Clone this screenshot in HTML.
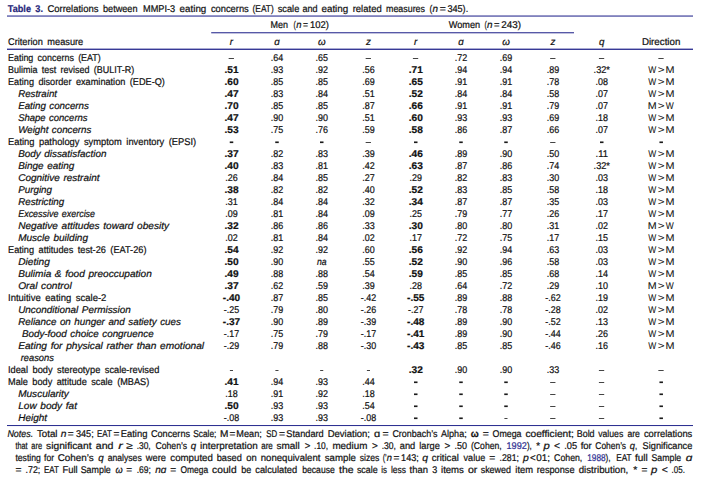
<!DOCTYPE html>
<html><head><meta charset="utf-8"><title>Table 3</title>
<style>
html,body{margin:0;padding:0;background:#fff;}
body{width:703px;height:480px;overflow:hidden;font-family:"Liberation Sans",sans-serif;}
svg{display:block;}
text{font-family:"Liberation Sans",sans-serif;font-size:9.8px;fill:#111111;white-space:pre;word-spacing:2px;text-rendering:geometricPrecision;stroke:#111111;stroke-width:0.22px;}
.b{font-weight:bold;}
.i{font-style:italic;word-spacing:0.8px;}
.n{stroke-width:0.06px;}
</style></head><body>
<svg width="703" height="480" viewBox="0 0 703 480">
<rect x="0" y="0" width="703" height="480" fill="#ffffff"/>
<rect x="7" y="15.5" width="686" height="1.1" fill="#2e3192"/>
<rect x="211.2" y="32.2" width="362.8" height="1.1" fill="#2e3192"/>
<rect x="7" y="48.6" width="686" height="1.35" fill="#2e3192"/>
<rect x="7" y="425.0" width="686" height="1.05" fill="#2e3192"/>
<text x="7.80" y="12.20" textLength="35.20" lengthAdjust="spacingAndGlyphs" class="b" style="fill:#27277a;stroke:#27277a">Table 3.</text>
<text x="47.40" y="12.20" textLength="51.10" lengthAdjust="spacingAndGlyphs">Correlations</text>
<text x="103.00" y="12.20" textLength="34.50" lengthAdjust="spacingAndGlyphs">between</text>
<text x="143.00" y="12.20" textLength="32.20" lengthAdjust="spacingAndGlyphs">MMPI-3</text>
<text x="179.60" y="12.20" textLength="26.70" lengthAdjust="spacingAndGlyphs">eating</text>
<text x="210.90" y="12.20" textLength="37.90" lengthAdjust="spacingAndGlyphs">concerns</text>
<text x="252.60" y="12.20" textLength="21.10" lengthAdjust="spacingAndGlyphs">(EAT)</text>
<text x="277.70" y="12.20" textLength="21.60" lengthAdjust="spacingAndGlyphs">scale</text>
<text x="302.50" y="12.20" textLength="15.20" lengthAdjust="spacingAndGlyphs">and</text>
<text x="321.50" y="12.20" textLength="26.70" lengthAdjust="spacingAndGlyphs">eating</text>
<text x="352.70" y="12.20" textLength="29.00" lengthAdjust="spacingAndGlyphs">related</text>
<text x="386.00" y="12.20" textLength="39.00" lengthAdjust="spacingAndGlyphs">measures</text>
<text x="429.60" y="12.20" textLength="2.80" lengthAdjust="spacingAndGlyphs">(</text>
<text x="432.40" y="12.20" textLength="5.50" lengthAdjust="spacingAndGlyphs" class="i">n</text>
<text x="439.80" y="12.20" textLength="6.10" lengthAdjust="spacingAndGlyphs">=</text>
<text x="447.40" y="12.20" textLength="20.80" lengthAdjust="spacingAndGlyphs">345).</text>
<text x="270.50" y="27.70" textLength="17.50" lengthAdjust="spacingAndGlyphs">Men</text>
<text x="293.50" y="27.70" textLength="2.30" lengthAdjust="spacingAndGlyphs">(</text>
<text x="296.25" y="27.70" textLength="5.25" lengthAdjust="spacingAndGlyphs" class="i">n</text>
<text x="303.00" y="27.70" textLength="5.00" lengthAdjust="spacingAndGlyphs">=</text>
<text x="310.00" y="27.70" textLength="19.00" lengthAdjust="spacingAndGlyphs">102)</text>
<text x="448.80" y="27.70" textLength="31.40" lengthAdjust="spacingAndGlyphs">Women</text>
<text x="484.50" y="27.70" textLength="2.30" lengthAdjust="spacingAndGlyphs">(</text>
<text x="487.00" y="27.70" textLength="5.50" lengthAdjust="spacingAndGlyphs" class="i">n</text>
<text x="494.00" y="27.70" textLength="5.50" lengthAdjust="spacingAndGlyphs">=</text>
<text x="501.25" y="27.70" textLength="19.75" lengthAdjust="spacingAndGlyphs">243)</text>
<text x="8.00" y="45.00" textLength="75.25" lengthAdjust="spacingAndGlyphs">Criterion measure</text>
<text x="231.50" y="45.00" text-anchor="middle" class="i">r</text>
<text x="277.00" y="45.00" text-anchor="middle" class="i">ɑ</text>
<text x="321.75" y="45.00" text-anchor="middle" class="i">ω</text>
<text x="368.50" y="45.00" text-anchor="middle" class="i">z</text>
<text x="415.75" y="45.00" text-anchor="middle" class="i">r</text>
<text x="461.00" y="45.00" text-anchor="middle" class="i">ɑ</text>
<text x="506.00" y="45.00" text-anchor="middle" class="i">ω</text>
<text x="553.00" y="45.00" text-anchor="middle" class="i">z</text>
<text x="601.75" y="45.00" text-anchor="middle" class="i">q</text>
<text x="641.90" y="45.00" textLength="38.50" lengthAdjust="spacingAndGlyphs">Direction</text>
<text x="8.00" y="60.60" textLength="92.80" lengthAdjust="spacingAndGlyphs">Eating concerns (EAT)</text>
<rect x="228.65" y="58.00" width="5.3" height="1" fill="#444"/>
<text x="270.77" y="60.60" textLength="12.45" lengthAdjust="spacingAndGlyphs">.64</text>
<text x="315.52" y="60.60" textLength="12.45" lengthAdjust="spacingAndGlyphs">.65</text>
<rect x="365.65" y="58.00" width="5.3" height="1" fill="#444"/>
<rect x="412.90" y="58.00" width="5.3" height="1" fill="#444"/>
<text x="454.77" y="60.60" textLength="12.45" lengthAdjust="spacingAndGlyphs">.72</text>
<text x="499.77" y="60.60" textLength="12.45" lengthAdjust="spacingAndGlyphs">.69</text>
<rect x="550.15" y="58.00" width="5.3" height="1" fill="#444"/>
<rect x="598.90" y="58.00" width="5.3" height="1" fill="#444"/>
<rect x="658.35" y="58.00" width="5.3" height="1" fill="#444"/>
<text x="8.00" y="72.60" textLength="126.30" lengthAdjust="spacingAndGlyphs">Bulimia test revised (BULIT-R)</text>
<text x="224.45" y="72.60" textLength="14.10" lengthAdjust="spacingAndGlyphs" class="b">.51</text>
<text x="270.77" y="72.60" textLength="12.45" lengthAdjust="spacingAndGlyphs">.93</text>
<text x="315.52" y="72.60" textLength="12.45" lengthAdjust="spacingAndGlyphs">.92</text>
<text x="362.27" y="72.60" textLength="12.45" lengthAdjust="spacingAndGlyphs">.56</text>
<text x="408.70" y="72.60" textLength="14.10" lengthAdjust="spacingAndGlyphs" class="b">.71</text>
<text x="454.77" y="72.60" textLength="12.45" lengthAdjust="spacingAndGlyphs">.94</text>
<text x="499.77" y="72.60" textLength="12.45" lengthAdjust="spacingAndGlyphs">.94</text>
<text x="546.77" y="72.60" textLength="12.45" lengthAdjust="spacingAndGlyphs">.89</text>
<text x="593.58" y="72.60" textLength="16.35" lengthAdjust="spacingAndGlyphs">.32*</text>
<text x="648.20" y="72.60" textLength="8.00" lengthAdjust="spacingAndGlyphs" class="n">W</text>
<text x="657.70" y="72.60" textLength="6.80" lengthAdjust="spacingAndGlyphs" class="n">&gt;</text>
<text x="665.50" y="72.60" textLength="9.00" lengthAdjust="spacingAndGlyphs" class="n">M</text>
<text x="8.00" y="84.60" textLength="156.90" lengthAdjust="spacingAndGlyphs">Eating disorder examination (EDE-Q)</text>
<text x="224.45" y="84.60" textLength="14.10" lengthAdjust="spacingAndGlyphs" class="b">.60</text>
<text x="270.77" y="84.60" textLength="12.45" lengthAdjust="spacingAndGlyphs">.85</text>
<text x="315.52" y="84.60" textLength="12.45" lengthAdjust="spacingAndGlyphs">.85</text>
<text x="362.27" y="84.60" textLength="12.45" lengthAdjust="spacingAndGlyphs">.69</text>
<text x="408.70" y="84.60" textLength="14.10" lengthAdjust="spacingAndGlyphs" class="b">.65</text>
<text x="454.77" y="84.60" textLength="12.45" lengthAdjust="spacingAndGlyphs">.91</text>
<text x="499.77" y="84.60" textLength="12.45" lengthAdjust="spacingAndGlyphs">.91</text>
<text x="546.77" y="84.60" textLength="12.45" lengthAdjust="spacingAndGlyphs">.78</text>
<text x="595.52" y="84.60" textLength="12.45" lengthAdjust="spacingAndGlyphs">.08</text>
<text x="648.20" y="84.60" textLength="8.00" lengthAdjust="spacingAndGlyphs" class="n">W</text>
<text x="657.70" y="84.60" textLength="6.80" lengthAdjust="spacingAndGlyphs" class="n">&gt;</text>
<text x="665.50" y="84.60" textLength="9.00" lengthAdjust="spacingAndGlyphs" class="n">M</text>
<text x="18.20" y="96.60" textLength="38.80" lengthAdjust="spacingAndGlyphs" class="i">Restraint</text>
<text x="224.45" y="96.60" textLength="14.10" lengthAdjust="spacingAndGlyphs" class="b">.47</text>
<text x="270.77" y="96.60" textLength="12.45" lengthAdjust="spacingAndGlyphs">.83</text>
<text x="315.52" y="96.60" textLength="12.45" lengthAdjust="spacingAndGlyphs">.84</text>
<text x="362.27" y="96.60" textLength="12.45" lengthAdjust="spacingAndGlyphs">.51</text>
<text x="408.70" y="96.60" textLength="14.10" lengthAdjust="spacingAndGlyphs" class="b">.52</text>
<text x="454.77" y="96.60" textLength="12.45" lengthAdjust="spacingAndGlyphs">.84</text>
<text x="499.77" y="96.60" textLength="12.45" lengthAdjust="spacingAndGlyphs">.84</text>
<text x="546.77" y="96.60" textLength="12.45" lengthAdjust="spacingAndGlyphs">.58</text>
<text x="595.52" y="96.60" textLength="12.45" lengthAdjust="spacingAndGlyphs">.07</text>
<text x="648.20" y="96.60" textLength="8.00" lengthAdjust="spacingAndGlyphs" class="n">W</text>
<text x="657.70" y="96.60" textLength="6.80" lengthAdjust="spacingAndGlyphs" class="n">&gt;</text>
<text x="665.50" y="96.60" textLength="9.00" lengthAdjust="spacingAndGlyphs" class="n">M</text>
<text x="18.20" y="108.60" textLength="70.70" lengthAdjust="spacingAndGlyphs" class="i">Eating concerns</text>
<text x="224.45" y="108.60" textLength="14.10" lengthAdjust="spacingAndGlyphs" class="b">.70</text>
<text x="270.77" y="108.60" textLength="12.45" lengthAdjust="spacingAndGlyphs">.85</text>
<text x="315.52" y="108.60" textLength="12.45" lengthAdjust="spacingAndGlyphs">.85</text>
<text x="362.27" y="108.60" textLength="12.45" lengthAdjust="spacingAndGlyphs">.87</text>
<text x="408.70" y="108.60" textLength="14.10" lengthAdjust="spacingAndGlyphs" class="b">.66</text>
<text x="454.77" y="108.60" textLength="12.45" lengthAdjust="spacingAndGlyphs">.91</text>
<text x="499.77" y="108.60" textLength="12.45" lengthAdjust="spacingAndGlyphs">.91</text>
<text x="546.77" y="108.60" textLength="12.45" lengthAdjust="spacingAndGlyphs">.79</text>
<text x="595.52" y="108.60" textLength="12.45" lengthAdjust="spacingAndGlyphs">.07</text>
<text x="647.80" y="108.60" textLength="8.90" lengthAdjust="spacingAndGlyphs" class="n">M</text>
<text x="657.70" y="108.60" textLength="6.80" lengthAdjust="spacingAndGlyphs" class="n">&gt;</text>
<text x="665.70" y="108.60" textLength="8.00" lengthAdjust="spacingAndGlyphs" class="n">W</text>
<text x="18.20" y="120.60" textLength="69.40" lengthAdjust="spacingAndGlyphs" class="i">Shape concerns</text>
<text x="224.45" y="120.60" textLength="14.10" lengthAdjust="spacingAndGlyphs" class="b">.47</text>
<text x="270.77" y="120.60" textLength="12.45" lengthAdjust="spacingAndGlyphs">.90</text>
<text x="315.52" y="120.60" textLength="12.45" lengthAdjust="spacingAndGlyphs">.90</text>
<text x="362.27" y="120.60" textLength="12.45" lengthAdjust="spacingAndGlyphs">.51</text>
<text x="408.70" y="120.60" textLength="14.10" lengthAdjust="spacingAndGlyphs" class="b">.60</text>
<text x="454.77" y="120.60" textLength="12.45" lengthAdjust="spacingAndGlyphs">.93</text>
<text x="499.77" y="120.60" textLength="12.45" lengthAdjust="spacingAndGlyphs">.93</text>
<text x="546.77" y="120.60" textLength="12.45" lengthAdjust="spacingAndGlyphs">.69</text>
<text x="595.52" y="120.60" textLength="12.45" lengthAdjust="spacingAndGlyphs">.18</text>
<text x="648.20" y="120.60" textLength="8.00" lengthAdjust="spacingAndGlyphs" class="n">W</text>
<text x="657.70" y="120.60" textLength="6.80" lengthAdjust="spacingAndGlyphs" class="n">&gt;</text>
<text x="665.50" y="120.60" textLength="9.00" lengthAdjust="spacingAndGlyphs" class="n">M</text>
<text x="18.20" y="132.60" textLength="73.20" lengthAdjust="spacingAndGlyphs" class="i">Weight concerns</text>
<text x="224.45" y="132.60" textLength="14.10" lengthAdjust="spacingAndGlyphs" class="b">.53</text>
<text x="270.77" y="132.60" textLength="12.45" lengthAdjust="spacingAndGlyphs">.75</text>
<text x="315.52" y="132.60" textLength="12.45" lengthAdjust="spacingAndGlyphs">.76</text>
<text x="362.27" y="132.60" textLength="12.45" lengthAdjust="spacingAndGlyphs">.59</text>
<text x="408.70" y="132.60" textLength="14.10" lengthAdjust="spacingAndGlyphs" class="b">.58</text>
<text x="454.77" y="132.60" textLength="12.45" lengthAdjust="spacingAndGlyphs">.86</text>
<text x="499.77" y="132.60" textLength="12.45" lengthAdjust="spacingAndGlyphs">.87</text>
<text x="546.77" y="132.60" textLength="12.45" lengthAdjust="spacingAndGlyphs">.66</text>
<text x="595.52" y="132.60" textLength="12.45" lengthAdjust="spacingAndGlyphs">.07</text>
<text x="648.20" y="132.60" textLength="8.00" lengthAdjust="spacingAndGlyphs" class="n">W</text>
<text x="657.70" y="132.60" textLength="6.80" lengthAdjust="spacingAndGlyphs" class="n">&gt;</text>
<text x="665.50" y="132.60" textLength="9.00" lengthAdjust="spacingAndGlyphs" class="n">M</text>
<text x="8.00" y="144.60" textLength="188.20" lengthAdjust="spacingAndGlyphs">Eating pathology symptom inventory (EPSI)</text>
<rect x="229.75" y="141.45" width="3.5" height="1.65" fill="#1a1a1a"/>
<rect x="275.25" y="141.45" width="3.5" height="1.65" fill="#1a1a1a"/>
<rect x="320.00" y="141.45" width="3.5" height="1.65" fill="#1a1a1a"/>
<rect x="365.65" y="142.00" width="5.3" height="1" fill="#444"/>
<rect x="414.00" y="141.45" width="3.5" height="1.65" fill="#1a1a1a"/>
<rect x="459.25" y="141.45" width="3.5" height="1.65" fill="#1a1a1a"/>
<rect x="504.25" y="141.45" width="3.5" height="1.65" fill="#1a1a1a"/>
<rect x="550.15" y="142.00" width="5.3" height="1" fill="#444"/>
<rect x="600.00" y="141.45" width="3.5" height="1.65" fill="#1a1a1a"/>
<rect x="659.45" y="141.45" width="3.5" height="1.65" fill="#1a1a1a"/>
<text x="18.20" y="156.60" textLength="88.20" lengthAdjust="spacingAndGlyphs" class="i">Body dissatisfaction</text>
<text x="224.45" y="156.60" textLength="14.10" lengthAdjust="spacingAndGlyphs" class="b">.37</text>
<text x="270.77" y="156.60" textLength="12.45" lengthAdjust="spacingAndGlyphs">.82</text>
<text x="315.52" y="156.60" textLength="12.45" lengthAdjust="spacingAndGlyphs">.83</text>
<text x="362.27" y="156.60" textLength="12.45" lengthAdjust="spacingAndGlyphs">.39</text>
<text x="408.70" y="156.60" textLength="14.10" lengthAdjust="spacingAndGlyphs" class="b">.46</text>
<text x="454.77" y="156.60" textLength="12.45" lengthAdjust="spacingAndGlyphs">.89</text>
<text x="499.77" y="156.60" textLength="12.45" lengthAdjust="spacingAndGlyphs">.90</text>
<text x="546.77" y="156.60" textLength="12.45" lengthAdjust="spacingAndGlyphs">.50</text>
<text x="595.52" y="156.60" textLength="12.45" lengthAdjust="spacingAndGlyphs">.11</text>
<text x="648.20" y="156.60" textLength="8.00" lengthAdjust="spacingAndGlyphs" class="n">W</text>
<text x="657.70" y="156.60" textLength="6.80" lengthAdjust="spacingAndGlyphs" class="n">&gt;</text>
<text x="665.50" y="156.60" textLength="9.00" lengthAdjust="spacingAndGlyphs" class="n">M</text>
<text x="18.20" y="168.60" textLength="56.00" lengthAdjust="spacingAndGlyphs" class="i">Binge eating</text>
<text x="224.45" y="168.60" textLength="14.10" lengthAdjust="spacingAndGlyphs" class="b">.40</text>
<text x="270.77" y="168.60" textLength="12.45" lengthAdjust="spacingAndGlyphs">.83</text>
<text x="315.52" y="168.60" textLength="12.45" lengthAdjust="spacingAndGlyphs">.81</text>
<text x="362.27" y="168.60" textLength="12.45" lengthAdjust="spacingAndGlyphs">.42</text>
<text x="408.70" y="168.60" textLength="14.10" lengthAdjust="spacingAndGlyphs" class="b">.63</text>
<text x="454.77" y="168.60" textLength="12.45" lengthAdjust="spacingAndGlyphs">.87</text>
<text x="499.77" y="168.60" textLength="12.45" lengthAdjust="spacingAndGlyphs">.86</text>
<text x="546.77" y="168.60" textLength="12.45" lengthAdjust="spacingAndGlyphs">.74</text>
<text x="593.58" y="168.60" textLength="16.35" lengthAdjust="spacingAndGlyphs">.32*</text>
<text x="648.20" y="168.60" textLength="8.00" lengthAdjust="spacingAndGlyphs" class="n">W</text>
<text x="657.70" y="168.60" textLength="6.80" lengthAdjust="spacingAndGlyphs" class="n">&gt;</text>
<text x="665.50" y="168.60" textLength="9.00" lengthAdjust="spacingAndGlyphs" class="n">M</text>
<text x="18.20" y="180.60" textLength="81.30" lengthAdjust="spacingAndGlyphs" class="i">Cognitive restraint</text>
<text x="225.28" y="180.60" textLength="12.45" lengthAdjust="spacingAndGlyphs">.26</text>
<text x="270.77" y="180.60" textLength="12.45" lengthAdjust="spacingAndGlyphs">.84</text>
<text x="315.52" y="180.60" textLength="12.45" lengthAdjust="spacingAndGlyphs">.85</text>
<text x="362.27" y="180.60" textLength="12.45" lengthAdjust="spacingAndGlyphs">.27</text>
<text x="409.52" y="180.60" textLength="12.45" lengthAdjust="spacingAndGlyphs">.29</text>
<text x="454.77" y="180.60" textLength="12.45" lengthAdjust="spacingAndGlyphs">.82</text>
<text x="499.77" y="180.60" textLength="12.45" lengthAdjust="spacingAndGlyphs">.83</text>
<text x="546.77" y="180.60" textLength="12.45" lengthAdjust="spacingAndGlyphs">.30</text>
<text x="595.52" y="180.60" textLength="12.45" lengthAdjust="spacingAndGlyphs">.03</text>
<text x="648.20" y="180.60" textLength="8.00" lengthAdjust="spacingAndGlyphs" class="n">W</text>
<text x="657.70" y="180.60" textLength="6.80" lengthAdjust="spacingAndGlyphs" class="n">&gt;</text>
<text x="665.50" y="180.60" textLength="9.00" lengthAdjust="spacingAndGlyphs" class="n">M</text>
<text x="18.20" y="192.60" textLength="33.80" lengthAdjust="spacingAndGlyphs" class="i">Purging</text>
<text x="224.45" y="192.60" textLength="14.10" lengthAdjust="spacingAndGlyphs" class="b">.38</text>
<text x="270.77" y="192.60" textLength="12.45" lengthAdjust="spacingAndGlyphs">.82</text>
<text x="315.52" y="192.60" textLength="12.45" lengthAdjust="spacingAndGlyphs">.82</text>
<text x="362.27" y="192.60" textLength="12.45" lengthAdjust="spacingAndGlyphs">.40</text>
<text x="408.70" y="192.60" textLength="14.10" lengthAdjust="spacingAndGlyphs" class="b">.52</text>
<text x="454.77" y="192.60" textLength="12.45" lengthAdjust="spacingAndGlyphs">.83</text>
<text x="499.77" y="192.60" textLength="12.45" lengthAdjust="spacingAndGlyphs">.85</text>
<text x="546.77" y="192.60" textLength="12.45" lengthAdjust="spacingAndGlyphs">.58</text>
<text x="595.52" y="192.60" textLength="12.45" lengthAdjust="spacingAndGlyphs">.18</text>
<text x="648.20" y="192.60" textLength="8.00" lengthAdjust="spacingAndGlyphs" class="n">W</text>
<text x="657.70" y="192.60" textLength="6.80" lengthAdjust="spacingAndGlyphs" class="n">&gt;</text>
<text x="665.50" y="192.60" textLength="9.00" lengthAdjust="spacingAndGlyphs" class="n">M</text>
<text x="18.20" y="204.60" textLength="46.00" lengthAdjust="spacingAndGlyphs" class="i">Restricting</text>
<text x="225.28" y="204.60" textLength="12.45" lengthAdjust="spacingAndGlyphs">.31</text>
<text x="270.77" y="204.60" textLength="12.45" lengthAdjust="spacingAndGlyphs">.84</text>
<text x="315.52" y="204.60" textLength="12.45" lengthAdjust="spacingAndGlyphs">.84</text>
<text x="362.27" y="204.60" textLength="12.45" lengthAdjust="spacingAndGlyphs">.32</text>
<text x="408.70" y="204.60" textLength="14.10" lengthAdjust="spacingAndGlyphs" class="b">.34</text>
<text x="454.77" y="204.60" textLength="12.45" lengthAdjust="spacingAndGlyphs">.87</text>
<text x="499.77" y="204.60" textLength="12.45" lengthAdjust="spacingAndGlyphs">.87</text>
<text x="546.77" y="204.60" textLength="12.45" lengthAdjust="spacingAndGlyphs">.35</text>
<text x="595.52" y="204.60" textLength="12.45" lengthAdjust="spacingAndGlyphs">.03</text>
<text x="648.20" y="204.60" textLength="8.00" lengthAdjust="spacingAndGlyphs" class="n">W</text>
<text x="657.70" y="204.60" textLength="6.80" lengthAdjust="spacingAndGlyphs" class="n">&gt;</text>
<text x="665.50" y="204.60" textLength="9.00" lengthAdjust="spacingAndGlyphs" class="n">M</text>
<text x="18.20" y="216.60" textLength="76.90" lengthAdjust="spacingAndGlyphs" class="i">Excessive exercise</text>
<text x="225.28" y="216.60" textLength="12.45" lengthAdjust="spacingAndGlyphs">.09</text>
<text x="270.77" y="216.60" textLength="12.45" lengthAdjust="spacingAndGlyphs">.81</text>
<text x="315.52" y="216.60" textLength="12.45" lengthAdjust="spacingAndGlyphs">.84</text>
<text x="362.27" y="216.60" textLength="12.45" lengthAdjust="spacingAndGlyphs">.09</text>
<text x="409.52" y="216.60" textLength="12.45" lengthAdjust="spacingAndGlyphs">.25</text>
<text x="454.77" y="216.60" textLength="12.45" lengthAdjust="spacingAndGlyphs">.79</text>
<text x="499.77" y="216.60" textLength="12.45" lengthAdjust="spacingAndGlyphs">.77</text>
<text x="546.77" y="216.60" textLength="12.45" lengthAdjust="spacingAndGlyphs">.26</text>
<text x="595.52" y="216.60" textLength="12.45" lengthAdjust="spacingAndGlyphs">.17</text>
<text x="648.20" y="216.60" textLength="8.00" lengthAdjust="spacingAndGlyphs" class="n">W</text>
<text x="657.70" y="216.60" textLength="6.80" lengthAdjust="spacingAndGlyphs" class="n">&gt;</text>
<text x="665.50" y="216.60" textLength="9.00" lengthAdjust="spacingAndGlyphs" class="n">M</text>
<text x="18.20" y="228.60" textLength="150.80" lengthAdjust="spacingAndGlyphs" class="i">Negative attitudes toward obesity</text>
<text x="224.45" y="228.60" textLength="14.10" lengthAdjust="spacingAndGlyphs" class="b">.32</text>
<text x="270.77" y="228.60" textLength="12.45" lengthAdjust="spacingAndGlyphs">.86</text>
<text x="315.52" y="228.60" textLength="12.45" lengthAdjust="spacingAndGlyphs">.86</text>
<text x="362.27" y="228.60" textLength="12.45" lengthAdjust="spacingAndGlyphs">.33</text>
<text x="408.70" y="228.60" textLength="14.10" lengthAdjust="spacingAndGlyphs" class="b">.30</text>
<text x="454.77" y="228.60" textLength="12.45" lengthAdjust="spacingAndGlyphs">.80</text>
<text x="499.77" y="228.60" textLength="12.45" lengthAdjust="spacingAndGlyphs">.80</text>
<text x="546.77" y="228.60" textLength="12.45" lengthAdjust="spacingAndGlyphs">.31</text>
<text x="595.52" y="228.60" textLength="12.45" lengthAdjust="spacingAndGlyphs">.02</text>
<text x="647.80" y="228.60" textLength="8.90" lengthAdjust="spacingAndGlyphs" class="n">M</text>
<text x="657.70" y="228.60" textLength="6.80" lengthAdjust="spacingAndGlyphs" class="n">&gt;</text>
<text x="665.70" y="228.60" textLength="8.00" lengthAdjust="spacingAndGlyphs" class="n">W</text>
<text x="18.20" y="240.60" textLength="69.80" lengthAdjust="spacingAndGlyphs" class="i">Muscle building</text>
<text x="225.28" y="240.60" textLength="12.45" lengthAdjust="spacingAndGlyphs">.02</text>
<text x="270.77" y="240.60" textLength="12.45" lengthAdjust="spacingAndGlyphs">.81</text>
<text x="315.52" y="240.60" textLength="12.45" lengthAdjust="spacingAndGlyphs">.84</text>
<text x="362.27" y="240.60" textLength="12.45" lengthAdjust="spacingAndGlyphs">.02</text>
<text x="409.52" y="240.60" textLength="12.45" lengthAdjust="spacingAndGlyphs">.17</text>
<text x="454.77" y="240.60" textLength="12.45" lengthAdjust="spacingAndGlyphs">.72</text>
<text x="499.77" y="240.60" textLength="12.45" lengthAdjust="spacingAndGlyphs">.75</text>
<text x="546.77" y="240.60" textLength="12.45" lengthAdjust="spacingAndGlyphs">.17</text>
<text x="595.52" y="240.60" textLength="12.45" lengthAdjust="spacingAndGlyphs">.15</text>
<text x="648.20" y="240.60" textLength="8.00" lengthAdjust="spacingAndGlyphs" class="n">W</text>
<text x="657.70" y="240.60" textLength="6.80" lengthAdjust="spacingAndGlyphs" class="n">&gt;</text>
<text x="665.50" y="240.60" textLength="9.00" lengthAdjust="spacingAndGlyphs" class="n">M</text>
<text x="8.00" y="252.60" textLength="138.50" lengthAdjust="spacingAndGlyphs">Eating attitudes test-26 (EAT-26)</text>
<text x="224.45" y="252.60" textLength="14.10" lengthAdjust="spacingAndGlyphs" class="b">.54</text>
<text x="270.77" y="252.60" textLength="12.45" lengthAdjust="spacingAndGlyphs">.92</text>
<text x="315.52" y="252.60" textLength="12.45" lengthAdjust="spacingAndGlyphs">.92</text>
<text x="362.27" y="252.60" textLength="12.45" lengthAdjust="spacingAndGlyphs">.60</text>
<text x="408.70" y="252.60" textLength="14.10" lengthAdjust="spacingAndGlyphs" class="b">.56</text>
<text x="454.77" y="252.60" textLength="12.45" lengthAdjust="spacingAndGlyphs">.92</text>
<text x="499.77" y="252.60" textLength="12.45" lengthAdjust="spacingAndGlyphs">.94</text>
<text x="546.77" y="252.60" textLength="12.45" lengthAdjust="spacingAndGlyphs">.63</text>
<text x="595.52" y="252.60" textLength="12.45" lengthAdjust="spacingAndGlyphs">.03</text>
<text x="648.20" y="252.60" textLength="8.00" lengthAdjust="spacingAndGlyphs" class="n">W</text>
<text x="657.70" y="252.60" textLength="6.80" lengthAdjust="spacingAndGlyphs" class="n">&gt;</text>
<text x="665.50" y="252.60" textLength="9.00" lengthAdjust="spacingAndGlyphs" class="n">M</text>
<text x="18.20" y="264.60" textLength="31.60" lengthAdjust="spacingAndGlyphs" class="i">Dieting</text>
<text x="224.45" y="264.60" textLength="14.10" lengthAdjust="spacingAndGlyphs" class="b">.50</text>
<text x="270.77" y="264.60" textLength="12.45" lengthAdjust="spacingAndGlyphs">.90</text>
<text x="316.95" y="264.60" textLength="9.60" lengthAdjust="spacingAndGlyphs" class="i">na</text>
<text x="362.27" y="264.60" textLength="12.45" lengthAdjust="spacingAndGlyphs">.55</text>
<text x="408.70" y="264.60" textLength="14.10" lengthAdjust="spacingAndGlyphs" class="b">.52</text>
<text x="454.77" y="264.60" textLength="12.45" lengthAdjust="spacingAndGlyphs">.90</text>
<text x="499.77" y="264.60" textLength="12.45" lengthAdjust="spacingAndGlyphs">.96</text>
<text x="546.77" y="264.60" textLength="12.45" lengthAdjust="spacingAndGlyphs">.58</text>
<text x="595.52" y="264.60" textLength="12.45" lengthAdjust="spacingAndGlyphs">.03</text>
<text x="648.20" y="264.60" textLength="8.00" lengthAdjust="spacingAndGlyphs" class="n">W</text>
<text x="657.70" y="264.60" textLength="6.80" lengthAdjust="spacingAndGlyphs" class="n">&gt;</text>
<text x="665.50" y="264.60" textLength="9.00" lengthAdjust="spacingAndGlyphs" class="n">M</text>
<text x="18.20" y="276.60" textLength="133.60" lengthAdjust="spacingAndGlyphs" class="i">Bulimia &amp; food preoccupation</text>
<text x="224.45" y="276.60" textLength="14.10" lengthAdjust="spacingAndGlyphs" class="b">.49</text>
<text x="270.77" y="276.60" textLength="12.45" lengthAdjust="spacingAndGlyphs">.88</text>
<text x="315.52" y="276.60" textLength="12.45" lengthAdjust="spacingAndGlyphs">.88</text>
<text x="362.27" y="276.60" textLength="12.45" lengthAdjust="spacingAndGlyphs">.54</text>
<text x="408.70" y="276.60" textLength="14.10" lengthAdjust="spacingAndGlyphs" class="b">.59</text>
<text x="454.77" y="276.60" textLength="12.45" lengthAdjust="spacingAndGlyphs">.85</text>
<text x="499.77" y="276.60" textLength="12.45" lengthAdjust="spacingAndGlyphs">.85</text>
<text x="546.77" y="276.60" textLength="12.45" lengthAdjust="spacingAndGlyphs">.68</text>
<text x="595.52" y="276.60" textLength="12.45" lengthAdjust="spacingAndGlyphs">.14</text>
<text x="648.20" y="276.60" textLength="8.00" lengthAdjust="spacingAndGlyphs" class="n">W</text>
<text x="657.70" y="276.60" textLength="6.80" lengthAdjust="spacingAndGlyphs" class="n">&gt;</text>
<text x="665.50" y="276.60" textLength="9.00" lengthAdjust="spacingAndGlyphs" class="n">M</text>
<text x="18.20" y="288.60" textLength="53.50" lengthAdjust="spacingAndGlyphs" class="i">Oral control</text>
<text x="224.45" y="288.60" textLength="14.10" lengthAdjust="spacingAndGlyphs" class="b">.37</text>
<text x="270.77" y="288.60" textLength="12.45" lengthAdjust="spacingAndGlyphs">.62</text>
<text x="315.52" y="288.60" textLength="12.45" lengthAdjust="spacingAndGlyphs">.59</text>
<text x="362.27" y="288.60" textLength="12.45" lengthAdjust="spacingAndGlyphs">.39</text>
<text x="409.52" y="288.60" textLength="12.45" lengthAdjust="spacingAndGlyphs">.28</text>
<text x="454.77" y="288.60" textLength="12.45" lengthAdjust="spacingAndGlyphs">.64</text>
<text x="499.77" y="288.60" textLength="12.45" lengthAdjust="spacingAndGlyphs">.72</text>
<text x="546.77" y="288.60" textLength="12.45" lengthAdjust="spacingAndGlyphs">.29</text>
<text x="595.52" y="288.60" textLength="12.45" lengthAdjust="spacingAndGlyphs">.10</text>
<text x="647.80" y="288.60" textLength="8.90" lengthAdjust="spacingAndGlyphs" class="n">M</text>
<text x="657.70" y="288.60" textLength="6.80" lengthAdjust="spacingAndGlyphs" class="n">&gt;</text>
<text x="665.70" y="288.60" textLength="8.00" lengthAdjust="spacingAndGlyphs" class="n">W</text>
<text x="8.00" y="300.60" textLength="98.40" lengthAdjust="spacingAndGlyphs">Intuitive eating scale-2</text>
<text x="222.85" y="300.60" textLength="17.30" lengthAdjust="spacingAndGlyphs" class="b">-.40</text>
<text x="270.77" y="300.60" textLength="12.45" lengthAdjust="spacingAndGlyphs">.87</text>
<text x="315.52" y="300.60" textLength="12.45" lengthAdjust="spacingAndGlyphs">.85</text>
<text x="360.82" y="300.60" textLength="15.35" lengthAdjust="spacingAndGlyphs">-.42</text>
<text x="407.10" y="300.60" textLength="17.30" lengthAdjust="spacingAndGlyphs" class="b">-.55</text>
<text x="454.77" y="300.60" textLength="12.45" lengthAdjust="spacingAndGlyphs">.89</text>
<text x="499.77" y="300.60" textLength="12.45" lengthAdjust="spacingAndGlyphs">.88</text>
<text x="545.33" y="300.60" textLength="15.35" lengthAdjust="spacingAndGlyphs">-.62</text>
<text x="595.52" y="300.60" textLength="12.45" lengthAdjust="spacingAndGlyphs">.19</text>
<text x="648.20" y="300.60" textLength="8.00" lengthAdjust="spacingAndGlyphs" class="n">W</text>
<text x="657.70" y="300.60" textLength="6.80" lengthAdjust="spacingAndGlyphs" class="n">&gt;</text>
<text x="665.50" y="300.60" textLength="9.00" lengthAdjust="spacingAndGlyphs" class="n">M</text>
<text x="18.20" y="312.60" textLength="112.60" lengthAdjust="spacingAndGlyphs" class="i">Unconditional Permission</text>
<text x="223.82" y="312.60" textLength="15.35" lengthAdjust="spacingAndGlyphs">-.25</text>
<text x="270.77" y="312.60" textLength="12.45" lengthAdjust="spacingAndGlyphs">.79</text>
<text x="315.52" y="312.60" textLength="12.45" lengthAdjust="spacingAndGlyphs">.80</text>
<text x="360.82" y="312.60" textLength="15.35" lengthAdjust="spacingAndGlyphs">-.26</text>
<text x="408.07" y="312.60" textLength="15.35" lengthAdjust="spacingAndGlyphs">-.27</text>
<text x="454.77" y="312.60" textLength="12.45" lengthAdjust="spacingAndGlyphs">.78</text>
<text x="499.77" y="312.60" textLength="12.45" lengthAdjust="spacingAndGlyphs">.78</text>
<text x="545.33" y="312.60" textLength="15.35" lengthAdjust="spacingAndGlyphs">-.28</text>
<text x="595.52" y="312.60" textLength="12.45" lengthAdjust="spacingAndGlyphs">.02</text>
<text x="648.20" y="312.60" textLength="8.00" lengthAdjust="spacingAndGlyphs" class="n">W</text>
<text x="657.70" y="312.60" textLength="6.80" lengthAdjust="spacingAndGlyphs" class="n">&gt;</text>
<text x="665.50" y="312.60" textLength="9.00" lengthAdjust="spacingAndGlyphs" class="n">M</text>
<text x="18.20" y="324.60" textLength="162.70" lengthAdjust="spacingAndGlyphs" class="i">Reliance on hunger and satiety cues</text>
<text x="222.85" y="324.60" textLength="17.30" lengthAdjust="spacingAndGlyphs" class="b">-.37</text>
<text x="270.77" y="324.60" textLength="12.45" lengthAdjust="spacingAndGlyphs">.90</text>
<text x="315.52" y="324.60" textLength="12.45" lengthAdjust="spacingAndGlyphs">.89</text>
<text x="360.82" y="324.60" textLength="15.35" lengthAdjust="spacingAndGlyphs">-.39</text>
<text x="407.10" y="324.60" textLength="17.30" lengthAdjust="spacingAndGlyphs" class="b">-.48</text>
<text x="454.77" y="324.60" textLength="12.45" lengthAdjust="spacingAndGlyphs">.89</text>
<text x="499.77" y="324.60" textLength="12.45" lengthAdjust="spacingAndGlyphs">.90</text>
<text x="545.33" y="324.60" textLength="15.35" lengthAdjust="spacingAndGlyphs">-.52</text>
<text x="595.52" y="324.60" textLength="12.45" lengthAdjust="spacingAndGlyphs">.13</text>
<text x="648.20" y="324.60" textLength="8.00" lengthAdjust="spacingAndGlyphs" class="n">W</text>
<text x="657.70" y="324.60" textLength="6.80" lengthAdjust="spacingAndGlyphs" class="n">&gt;</text>
<text x="665.50" y="324.60" textLength="9.00" lengthAdjust="spacingAndGlyphs" class="n">M</text>
<text x="21.90" y="336.60" textLength="131.80" lengthAdjust="spacingAndGlyphs" class="i">Body-food choice congruence</text>
<text x="223.82" y="336.60" textLength="15.35" lengthAdjust="spacingAndGlyphs">-.17</text>
<text x="270.77" y="336.60" textLength="12.45" lengthAdjust="spacingAndGlyphs">.75</text>
<text x="315.52" y="336.60" textLength="12.45" lengthAdjust="spacingAndGlyphs">.79</text>
<text x="360.82" y="336.60" textLength="15.35" lengthAdjust="spacingAndGlyphs">-.17</text>
<text x="407.10" y="336.60" textLength="17.30" lengthAdjust="spacingAndGlyphs" class="b">-.41</text>
<text x="454.77" y="336.60" textLength="12.45" lengthAdjust="spacingAndGlyphs">.89</text>
<text x="499.77" y="336.60" textLength="12.45" lengthAdjust="spacingAndGlyphs">.90</text>
<text x="545.33" y="336.60" textLength="15.35" lengthAdjust="spacingAndGlyphs">-.44</text>
<text x="595.52" y="336.60" textLength="12.45" lengthAdjust="spacingAndGlyphs">.26</text>
<text x="648.20" y="336.60" textLength="8.00" lengthAdjust="spacingAndGlyphs" class="n">W</text>
<text x="657.70" y="336.60" textLength="6.80" lengthAdjust="spacingAndGlyphs" class="n">&gt;</text>
<text x="665.50" y="336.60" textLength="9.00" lengthAdjust="spacingAndGlyphs" class="n">M</text>
<text x="18.20" y="348.60" textLength="185.90" lengthAdjust="spacingAndGlyphs" class="i">Eating for physical rather than emotional</text>
<text x="223.82" y="348.60" textLength="15.35" lengthAdjust="spacingAndGlyphs">-.29</text>
<text x="270.77" y="348.60" textLength="12.45" lengthAdjust="spacingAndGlyphs">.79</text>
<text x="315.52" y="348.60" textLength="12.45" lengthAdjust="spacingAndGlyphs">.88</text>
<text x="360.82" y="348.60" textLength="15.35" lengthAdjust="spacingAndGlyphs">-.30</text>
<text x="407.10" y="348.60" textLength="17.30" lengthAdjust="spacingAndGlyphs" class="b">-.43</text>
<text x="454.77" y="348.60" textLength="12.45" lengthAdjust="spacingAndGlyphs">.85</text>
<text x="499.77" y="348.60" textLength="12.45" lengthAdjust="spacingAndGlyphs">.85</text>
<text x="545.33" y="348.60" textLength="15.35" lengthAdjust="spacingAndGlyphs">-.46</text>
<text x="595.52" y="348.60" textLength="12.45" lengthAdjust="spacingAndGlyphs">.16</text>
<text x="648.20" y="348.60" textLength="8.00" lengthAdjust="spacingAndGlyphs" class="n">W</text>
<text x="657.70" y="348.60" textLength="6.80" lengthAdjust="spacingAndGlyphs" class="n">&gt;</text>
<text x="665.50" y="348.60" textLength="9.00" lengthAdjust="spacingAndGlyphs" class="n">M</text>
<text x="20.70" y="360.60" textLength="33.10" lengthAdjust="spacingAndGlyphs" class="i">reasons</text>
<text x="8.00" y="372.60" textLength="151.30" lengthAdjust="spacingAndGlyphs">Ideal body stereotype scale-revised</text>
<rect x="229.90" y="370.00" width="3.1" height="1" fill="#444"/>
<rect x="275.40" y="370.00" width="3.1" height="1" fill="#444"/>
<rect x="320.15" y="370.00" width="3.1" height="1" fill="#444"/>
<rect x="366.90" y="370.00" width="3.1" height="1" fill="#444"/>
<text x="408.70" y="372.60" textLength="14.10" lengthAdjust="spacingAndGlyphs" class="b">.32</text>
<text x="454.77" y="372.60" textLength="12.45" lengthAdjust="spacingAndGlyphs">.90</text>
<text x="499.77" y="372.60" textLength="12.45" lengthAdjust="spacingAndGlyphs">.90</text>
<text x="546.77" y="372.60" textLength="12.45" lengthAdjust="spacingAndGlyphs">.33</text>
<rect x="598.90" y="370.00" width="5.3" height="1" fill="#444"/>
<rect x="658.35" y="370.00" width="5.3" height="1" fill="#444"/>
<text x="8.00" y="384.60" textLength="141.30" lengthAdjust="spacingAndGlyphs">Male body attitude scale (MBAS)</text>
<text x="224.45" y="384.60" textLength="14.10" lengthAdjust="spacingAndGlyphs" class="b">.41</text>
<text x="270.77" y="384.60" textLength="12.45" lengthAdjust="spacingAndGlyphs">.94</text>
<text x="315.52" y="384.60" textLength="12.45" lengthAdjust="spacingAndGlyphs">.93</text>
<text x="362.27" y="384.60" textLength="12.45" lengthAdjust="spacingAndGlyphs">.44</text>
<rect x="414.00" y="381.45" width="3.5" height="1.65" fill="#1a1a1a"/>
<rect x="459.25" y="381.45" width="3.5" height="1.65" fill="#1a1a1a"/>
<rect x="504.25" y="381.45" width="3.5" height="1.65" fill="#1a1a1a"/>
<rect x="550.15" y="382.00" width="5.3" height="1" fill="#444"/>
<rect x="598.90" y="382.00" width="5.3" height="1" fill="#444"/>
<rect x="659.45" y="381.45" width="3.5" height="1.65" fill="#1a1a1a"/>
<text x="18.20" y="396.60" textLength="50.70" lengthAdjust="spacingAndGlyphs" class="i">Muscularity</text>
<text x="225.28" y="396.60" textLength="12.45" lengthAdjust="spacingAndGlyphs">.18</text>
<text x="270.77" y="396.60" textLength="12.45" lengthAdjust="spacingAndGlyphs">.91</text>
<text x="315.52" y="396.60" textLength="12.45" lengthAdjust="spacingAndGlyphs">.92</text>
<text x="362.27" y="396.60" textLength="12.45" lengthAdjust="spacingAndGlyphs">.18</text>
<rect x="414.00" y="393.45" width="3.5" height="1.65" fill="#1a1a1a"/>
<rect x="459.25" y="393.45" width="3.5" height="1.65" fill="#1a1a1a"/>
<rect x="504.25" y="393.45" width="3.5" height="1.65" fill="#1a1a1a"/>
<rect x="550.15" y="394.00" width="5.3" height="1" fill="#444"/>
<rect x="598.90" y="394.00" width="5.3" height="1" fill="#444"/>
<rect x="659.45" y="393.45" width="3.5" height="1.65" fill="#1a1a1a"/>
<text x="18.20" y="408.60" textLength="58.80" lengthAdjust="spacingAndGlyphs" class="i">Low body fat</text>
<text x="224.45" y="408.60" textLength="14.10" lengthAdjust="spacingAndGlyphs" class="b">.50</text>
<text x="270.77" y="408.60" textLength="12.45" lengthAdjust="spacingAndGlyphs">.93</text>
<text x="315.52" y="408.60" textLength="12.45" lengthAdjust="spacingAndGlyphs">.93</text>
<text x="362.27" y="408.60" textLength="12.45" lengthAdjust="spacingAndGlyphs">.54</text>
<rect x="414.00" y="405.45" width="3.5" height="1.65" fill="#1a1a1a"/>
<rect x="459.25" y="405.45" width="3.5" height="1.65" fill="#1a1a1a"/>
<rect x="504.25" y="405.45" width="3.5" height="1.65" fill="#1a1a1a"/>
<rect x="550.15" y="406.00" width="5.3" height="1" fill="#444"/>
<rect x="598.90" y="406.00" width="5.3" height="1" fill="#444"/>
<rect x="659.45" y="405.45" width="3.5" height="1.65" fill="#1a1a1a"/>
<text x="18.20" y="420.60" textLength="28.80" lengthAdjust="spacingAndGlyphs" class="i">Height</text>
<text x="223.82" y="420.60" textLength="15.35" lengthAdjust="spacingAndGlyphs">-.08</text>
<text x="270.77" y="420.60" textLength="12.45" lengthAdjust="spacingAndGlyphs">.93</text>
<text x="315.52" y="420.60" textLength="12.45" lengthAdjust="spacingAndGlyphs">.93</text>
<text x="360.82" y="420.60" textLength="15.35" lengthAdjust="spacingAndGlyphs">-.08</text>
<rect x="414.00" y="417.45" width="3.5" height="1.65" fill="#1a1a1a"/>
<rect x="459.25" y="417.45" width="3.5" height="1.65" fill="#1a1a1a"/>
<rect x="504.40" y="418.00" width="3.1" height="1" fill="#444"/>
<rect x="550.15" y="418.00" width="5.3" height="1" fill="#444"/>
<rect x="598.90" y="418.00" width="5.3" height="1" fill="#444"/>
<rect x="659.45" y="417.45" width="3.5" height="1.65" fill="#1a1a1a"/>
<text x="7.40" y="436.70" textLength="25.80" lengthAdjust="spacingAndGlyphs" class="i">Notes.</text>
<text x="36.90" y="436.70" textLength="20.60" lengthAdjust="spacingAndGlyphs">Total</text>
<text x="60.80" y="436.70" textLength="5.70" lengthAdjust="spacingAndGlyphs" class="i">n</text>
<text x="67.80" y="436.70" textLength="5.90" lengthAdjust="spacingAndGlyphs">=</text>
<text x="75.90" y="436.70" textLength="17.80" lengthAdjust="spacingAndGlyphs">345;</text>
<text x="96.90" y="436.70" textLength="14.90" lengthAdjust="spacingAndGlyphs">EAT</text>
<text x="113.60" y="436.70" textLength="5.90" lengthAdjust="spacingAndGlyphs">=</text>
<text x="120.70" y="436.70" textLength="26.70" lengthAdjust="spacingAndGlyphs">Eating</text>
<text x="150.90" y="436.70" textLength="39.20" lengthAdjust="spacingAndGlyphs">Concerns</text>
<text x="193.20" y="436.70" textLength="23.20" lengthAdjust="spacingAndGlyphs">Scale;</text>
<text x="219.90" y="436.70" textLength="8.40" lengthAdjust="spacingAndGlyphs">M</text>
<text x="229.40" y="436.70" textLength="5.80" lengthAdjust="spacingAndGlyphs">=</text>
<text x="236.30" y="436.70" textLength="25.50" lengthAdjust="spacingAndGlyphs">Mean;</text>
<text x="266.30" y="436.70" textLength="10.90" lengthAdjust="spacingAndGlyphs">SD</text>
<text x="278.90" y="436.70" textLength="6.00" lengthAdjust="spacingAndGlyphs">=</text>
<text x="286.30" y="436.70" textLength="37.40" lengthAdjust="spacingAndGlyphs">Standard</text>
<text x="327.70" y="436.70" textLength="42.30" lengthAdjust="spacingAndGlyphs">Deviation;</text>
<text x="374.10" y="436.70" textLength="6.20" lengthAdjust="spacingAndGlyphs">ɑ</text>
<text x="382.50" y="436.70" textLength="6.10" lengthAdjust="spacingAndGlyphs">=</text>
<text x="392.40" y="436.70" textLength="45.10" lengthAdjust="spacingAndGlyphs">Cronbach’s</text>
<text x="441.00" y="436.70" textLength="25.70" lengthAdjust="spacingAndGlyphs">Alpha;</text>
<text x="470.70" y="436.70" textLength="8.00" lengthAdjust="spacingAndGlyphs" class="b">ω</text>
<text x="482.70" y="436.70" textLength="6.10" lengthAdjust="spacingAndGlyphs">=</text>
<text x="492.50" y="436.70" textLength="29.00" lengthAdjust="spacingAndGlyphs">Omega</text>
<text x="525.40" y="436.70" textLength="48.50" lengthAdjust="spacingAndGlyphs">coefficient;</text>
<text x="576.70" y="436.70" textLength="17.90" lengthAdjust="spacingAndGlyphs">Bold</text>
<text x="598.20" y="436.70" textLength="25.10" lengthAdjust="spacingAndGlyphs">values</text>
<text x="627.40" y="436.70" textLength="12.50" lengthAdjust="spacingAndGlyphs">are</text>
<text x="643.90" y="436.70" textLength="48.40" lengthAdjust="spacingAndGlyphs">correlations</text>
<text x="15.40" y="448.70" textLength="12.20" lengthAdjust="spacingAndGlyphs">that</text>
<text x="31.30" y="448.70" textLength="10.80" lengthAdjust="spacingAndGlyphs">are</text>
<text x="46.10" y="448.70" textLength="45.50" lengthAdjust="spacingAndGlyphs">significant</text>
<text x="95.80" y="448.70" textLength="17.70" lengthAdjust="spacingAndGlyphs">and</text>
<text x="118.30" y="448.70" textLength="4.50" lengthAdjust="spacingAndGlyphs" class="i">r</text>
<text x="126.20" y="448.70" textLength="6.50" lengthAdjust="spacingAndGlyphs">≥</text>
<text x="136.70" y="448.70" textLength="14.00" lengthAdjust="spacingAndGlyphs">.30,</text>
<text x="155.40" y="448.70" textLength="31.70" lengthAdjust="spacingAndGlyphs">Cohen’s</text>
<text x="190.70" y="448.70" textLength="5.40" lengthAdjust="spacingAndGlyphs" class="i">q</text>
<text x="200.00" y="448.70" textLength="57.80" lengthAdjust="spacingAndGlyphs">interpretation</text>
<text x="261.20" y="448.70" textLength="11.60" lengthAdjust="spacingAndGlyphs">are</text>
<text x="276.50" y="448.70" textLength="23.30" lengthAdjust="spacingAndGlyphs">small</text>
<text x="304.70" y="448.70" textLength="5.60" lengthAdjust="spacingAndGlyphs">&gt;</text>
<text x="314.10" y="448.70" textLength="14.00" lengthAdjust="spacingAndGlyphs">.10,</text>
<text x="332.40" y="448.70" textLength="35.00" lengthAdjust="spacingAndGlyphs">medium</text>
<text x="372.10" y="448.70" textLength="5.80" lengthAdjust="spacingAndGlyphs">&gt;</text>
<text x="381.70" y="448.70" textLength="14.30" lengthAdjust="spacingAndGlyphs">.30,</text>
<text x="399.80" y="448.70" textLength="15.50" lengthAdjust="spacingAndGlyphs">and</text>
<text x="419.20" y="448.70" textLength="20.60" lengthAdjust="spacingAndGlyphs">large</text>
<text x="444.50" y="448.70" textLength="5.80" lengthAdjust="spacingAndGlyphs">&gt;</text>
<text x="454.60" y="448.70" textLength="12.50" lengthAdjust="spacingAndGlyphs">.50</text>
<text x="471.00" y="448.70" textLength="30.70" lengthAdjust="spacingAndGlyphs">(Cohen,</text>
<text x="506.50" y="448.70" textLength="20.40" lengthAdjust="spacingAndGlyphs" style="fill:#2e3192;stroke:#2e3192">1992</text>
<text x="526.90" y="448.70" textLength="4.90" lengthAdjust="spacingAndGlyphs">),</text>
<text x="536.30" y="448.70" textLength="3.80" lengthAdjust="spacingAndGlyphs">*</text>
<text x="543.50" y="448.70" textLength="6.30" lengthAdjust="spacingAndGlyphs" class="i">p</text>
<text x="554.00" y="448.70" textLength="6.00" lengthAdjust="spacingAndGlyphs">&lt;</text>
<text x="564.20" y="448.70" textLength="12.90" lengthAdjust="spacingAndGlyphs">.05</text>
<text x="580.70" y="448.70" textLength="11.10" lengthAdjust="spacingAndGlyphs">for</text>
<text x="595.30" y="448.70" textLength="30.80" lengthAdjust="spacingAndGlyphs">Cohen’s</text>
<text x="629.70" y="448.70" textLength="5.20" lengthAdjust="spacingAndGlyphs" class="i">q</text>
<text x="634.90" y="448.70" textLength="2.20" lengthAdjust="spacingAndGlyphs">,</text>
<text x="642.60" y="448.70" textLength="49.70" lengthAdjust="spacingAndGlyphs">Significance</text>
<text x="15.40" y="460.70" textLength="25.40" lengthAdjust="spacingAndGlyphs">testing</text>
<text x="44.10" y="460.70" textLength="10.00" lengthAdjust="spacingAndGlyphs">for</text>
<text x="57.70" y="460.70" textLength="36.10" lengthAdjust="spacingAndGlyphs">Cohen’s</text>
<text x="98.30" y="460.70" textLength="5.50" lengthAdjust="spacingAndGlyphs" class="i">q</text>
<text x="107.70" y="460.70" textLength="34.00" lengthAdjust="spacingAndGlyphs">analyses</text>
<text x="145.80" y="460.70" textLength="20.20" lengthAdjust="spacingAndGlyphs">were</text>
<text x="170.30" y="460.70" textLength="42.60" lengthAdjust="spacingAndGlyphs">computed</text>
<text x="216.70" y="460.70" textLength="25.20" lengthAdjust="spacingAndGlyphs">based</text>
<text x="246.30" y="460.70" textLength="10.50" lengthAdjust="spacingAndGlyphs">on</text>
<text x="260.80" y="460.70" textLength="59.60" lengthAdjust="spacingAndGlyphs">nonequivalent</text>
<text x="324.80" y="460.70" textLength="31.10" lengthAdjust="spacingAndGlyphs">sample</text>
<text x="359.70" y="460.70" textLength="19.60" lengthAdjust="spacingAndGlyphs">sizes</text>
<text x="382.70" y="460.70" textLength="4.00" lengthAdjust="spacingAndGlyphs">(’</text>
<text x="386.70" y="460.70" textLength="5.20" lengthAdjust="spacingAndGlyphs" class="i">n</text>
<text x="393.40" y="460.70" textLength="5.90" lengthAdjust="spacingAndGlyphs">=</text>
<text x="401.10" y="460.70" textLength="17.70" lengthAdjust="spacingAndGlyphs">143;</text>
<text x="422.20" y="460.70" textLength="5.80" lengthAdjust="spacingAndGlyphs" class="i">q</text>
<text x="431.80" y="460.70" textLength="27.00" lengthAdjust="spacingAndGlyphs">critical</text>
<text x="463.60" y="460.70" textLength="21.60" lengthAdjust="spacingAndGlyphs">value</text>
<text x="489.30" y="460.70" textLength="6.00" lengthAdjust="spacingAndGlyphs">=</text>
<text x="499.50" y="460.70" textLength="19.50" lengthAdjust="spacingAndGlyphs">.281;</text>
<text x="522.90" y="460.70" textLength="5.80" lengthAdjust="spacingAndGlyphs" class="i">p</text>
<text x="530.10" y="460.70" textLength="5.70" lengthAdjust="spacingAndGlyphs">&lt;</text>
<text x="536.30" y="460.70" textLength="13.80" lengthAdjust="spacingAndGlyphs">01;</text>
<text x="554.10" y="460.70" textLength="28.20" lengthAdjust="spacingAndGlyphs">Cohen,</text>
<text x="587.20" y="460.70" textLength="18.40" lengthAdjust="spacingAndGlyphs" style="fill:#2e3192;stroke:#2e3192">1988</text>
<text x="605.60" y="460.70" textLength="5.00" lengthAdjust="spacingAndGlyphs">),</text>
<text x="616.20" y="460.70" textLength="15.40" lengthAdjust="spacingAndGlyphs">EAT</text>
<text x="635.00" y="460.70" textLength="12.80" lengthAdjust="spacingAndGlyphs">full</text>
<text x="651.50" y="460.70" textLength="29.70" lengthAdjust="spacingAndGlyphs">Sample</text>
<text x="685.70" y="460.70" textLength="6.60" lengthAdjust="spacingAndGlyphs" class="i">ɑ</text>
<text x="15.50" y="472.70" textLength="6.00" lengthAdjust="spacingAndGlyphs">=</text>
<text x="25.50" y="472.70" textLength="14.80" lengthAdjust="spacingAndGlyphs">.72;</text>
<text x="44.00" y="472.70" textLength="15.00" lengthAdjust="spacingAndGlyphs">EAT</text>
<text x="62.40" y="472.70" textLength="15.20" lengthAdjust="spacingAndGlyphs">Full</text>
<text x="80.70" y="472.70" textLength="30.10" lengthAdjust="spacingAndGlyphs">Sample</text>
<text x="115.50" y="472.70" textLength="7.20" lengthAdjust="spacingAndGlyphs" class="i">ω</text>
<text x="126.30" y="472.70" textLength="5.80" lengthAdjust="spacingAndGlyphs">=</text>
<text x="136.70" y="472.70" textLength="14.20" lengthAdjust="spacingAndGlyphs">.69;</text>
<text x="155.20" y="472.70" textLength="11.10" lengthAdjust="spacingAndGlyphs" class="i">nɑ</text>
<text x="170.30" y="472.70" textLength="5.90" lengthAdjust="spacingAndGlyphs">=</text>
<text x="180.50" y="472.70" textLength="27.60" lengthAdjust="spacingAndGlyphs">Omega</text>
<text x="212.10" y="472.70" textLength="24.50" lengthAdjust="spacingAndGlyphs">could</text>
<text x="241.30" y="472.70" textLength="10.00" lengthAdjust="spacingAndGlyphs">be</text>
<text x="255.30" y="472.70" textLength="41.90" lengthAdjust="spacingAndGlyphs">calculated</text>
<text x="302.20" y="472.70" textLength="32.60" lengthAdjust="spacingAndGlyphs">because</text>
<text x="339.00" y="472.70" textLength="14.50" lengthAdjust="spacingAndGlyphs">the</text>
<text x="356.90" y="472.70" textLength="20.80" lengthAdjust="spacingAndGlyphs">scale</text>
<text x="381.30" y="472.70" textLength="5.70" lengthAdjust="spacingAndGlyphs">is</text>
<text x="390.90" y="472.70" textLength="15.00" lengthAdjust="spacingAndGlyphs">less</text>
<text x="409.60" y="472.70" textLength="18.40" lengthAdjust="spacingAndGlyphs">than</text>
<text x="432.30" y="472.70" textLength="5.00" lengthAdjust="spacingAndGlyphs">3</text>
<text x="441.00" y="472.70" textLength="22.90" lengthAdjust="spacingAndGlyphs">items</text>
<text x="467.90" y="472.70" textLength="9.40" lengthAdjust="spacingAndGlyphs">or</text>
<text x="480.70" y="472.70" textLength="30.30" lengthAdjust="spacingAndGlyphs">skewed</text>
<text x="515.30" y="472.70" textLength="17.70" lengthAdjust="spacingAndGlyphs">item</text>
<text x="536.70" y="472.70" textLength="37.90" lengthAdjust="spacingAndGlyphs">response</text>
<text x="578.70" y="472.70" textLength="49.60" lengthAdjust="spacingAndGlyphs">distribution,</text>
<text x="633.30" y="472.70" textLength="4.10" lengthAdjust="spacingAndGlyphs">*</text>
<text x="641.40" y="472.70" textLength="5.90" lengthAdjust="spacingAndGlyphs">=</text>
<text x="651.00" y="472.70" textLength="6.30" lengthAdjust="spacingAndGlyphs" class="i">p</text>
<text x="661.70" y="472.70" textLength="6.10" lengthAdjust="spacingAndGlyphs">&lt;</text>
<text x="671.60" y="472.70" textLength="13.30" lengthAdjust="spacingAndGlyphs">.05.</text>
</svg>
</body></html>
